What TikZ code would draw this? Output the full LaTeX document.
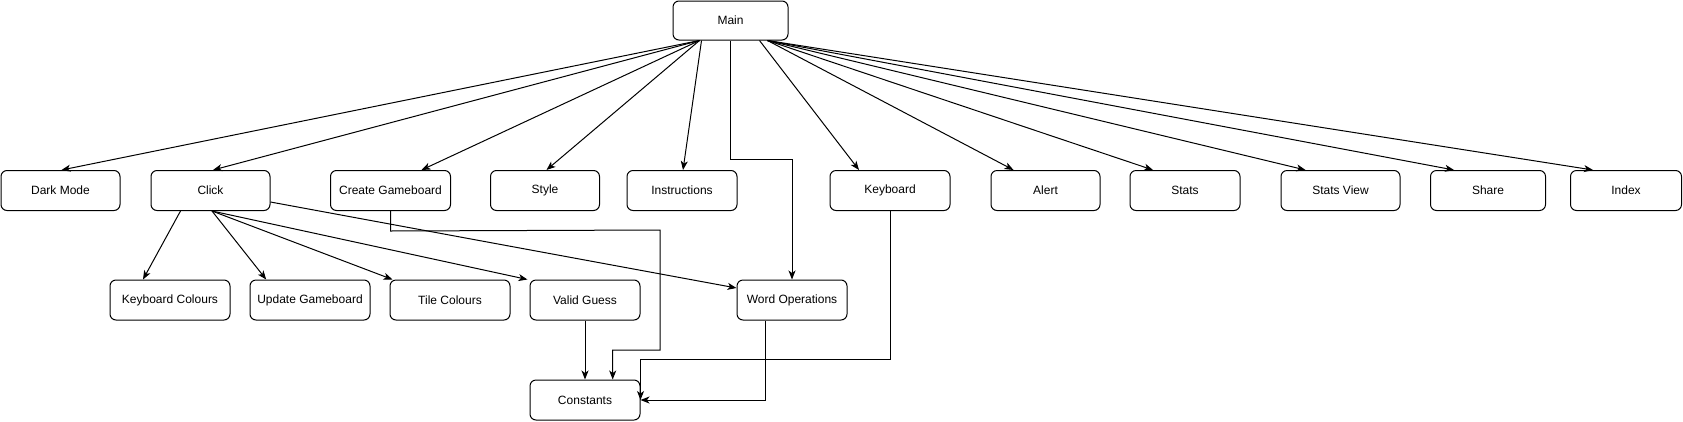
\documentclass[tikz,border=0pt]{standalone}
\usepackage{fontspec}
\setmainfont{Liberation Sans}
\usetikzlibrary{arrows.meta,calc}
\tikzset{
  box/.style={draw=black, line width=1pt, rounded corners=6pt, minimum height=40pt, inner sep=0pt, font=\fontsize{12}{14}\selectfont, fill=white},
  arr/.style={draw=black, line width=1pt, -{Stealth[length=9pt,width=7pt,inset=2.5pt]}}
}
\begin{document}
\begin{tikzpicture}[x=1pt,y=-1pt]
\useasboundingbox[fill=white] (0,0) rectangle (1683,421);
% nodes
\node[box, minimum width=115pt, minimum height=39pt] (main) at (730.5,20.5) {Main};
\node[box, minimum width=119pt] (dark) at (60.5,190.5) {Dark Mode};
\node[box, minimum width=119pt] (click) at (210.5,190.5) {Click};
\node[box, minimum width=120pt] (create) at (390.5,190.5) {Create Gameboard};
\node[box, minimum width=109pt] (style) at (545,190.5) {Style};
\node[box, minimum width=110pt] (instr) at (682,190.5) {Instructions};
\node[box, minimum width=120pt] (kbd) at (890,190.5) {Keyboard};
\node[box, minimum width=109pt] (alert) at (1045.5,190.5) {Alert};
\node[box, minimum width=110pt] (stats) at (1185,190.5) {Stats};
\node[box, minimum width=119pt] (statsview) at (1340.5,190.5) {Stats View};
\node[box, minimum width=115pt] (share) at (1488,190.5) {Share};
\node[box, minimum width=111pt] (index) at (1626,190.5) {Index};
\node[box, minimum width=120pt] (kbcol) at (170,300) {Keyboard Colours};
\node[box, minimum width=120pt] (update) at (310,300) {Update Gameboard};
\node[box, minimum width=120pt] (tile) at (450,300) {Tile Colours};
\node[box, minimum width=110pt] (valid) at (585,300) {Valid Guess};
\node[box, minimum width=110pt] (wordops) at (792,300) {Word Operations};
\node[box, minimum width=110pt] (const) at (585,400) {Constants};
% start points on Main
\coordinate (ml) at ($(main.south west)+(27,0)$);
\coordinate (mi) at ($(main.south west)+(29,0)$);
\coordinate (mk) at ($(main.south west)+(87,0)$);
\coordinate (mr) at ($(main.south west)+(95,0)$);
% Main edges
\draw[arr] (ml) -- ($(dark.north)+(1,0)$);
\draw[arr] (ml) -- ($(click.north)+(2.5,0)$);
\draw[arr] (ml) -- ($(create.north)+(31,0)$);
\draw[arr] (ml) -- ($(style.north)+(1.5,0)$);
\draw[arr] (mi) -- ($(instr.north)+(1,0)$);
\draw[arr] (mk) -- ($(kbd.north)+(-31,0)$);
\draw[arr] (mr) -- ($(alert.north)+(-32,0)$);
\draw[arr] (mr) -- ($(stats.north)+(-32,0)$);
\draw[arr] (mr) -- ($(statsview.north)+(-35,0)$);
\draw[arr] (mr) -- ($(share.north)+(-34,0)$);
\draw[arr] (mr) -- ($(index.north)+(-33,0)$);
\draw[arr] (main.south) |- ($(wordops.north)+(0,-120)$) -- (wordops.north);
% Click edges
\coordinate (cs) at ($(click.south)+(1.5,0)$);
\draw[arr] ($(click.south)+(-30,0)$) -- ($(kbcol.north)+(-27,0)$);
\draw[arr] (cs) -- ($(update.north west)+(16.7,0)$);
\draw[arr] (cs) -- ($(tile.north west)+(3,0)$);
\draw[arr] (cs) -- ($(valid.north west)+(-2,0)$);
\draw[arr] ($(click.east)+(0,11.5)$) -- ($(wordops.west)+(0,-12)$);
% Constants edges
\coordinate (cg1) at ($(create.south)+(0,20)$);
\coordinate (cg2) at (660,230);
\coordinate (cg3) at (660,350);
\draw[arr] (create.south) -- (cg1) -- (cg2) -- (cg3) -| ($(const.north)+(27.7,0)$);
\draw[arr] (valid.south) -- (const.north);
\draw[arr] (kbd.south) |- ($(const.north east)+(0,-20)$) -- (const.east);
\draw[arr] ($(wordops.south)+(-27,0)$) |- (const.east);
\end{tikzpicture}
\end{document}
